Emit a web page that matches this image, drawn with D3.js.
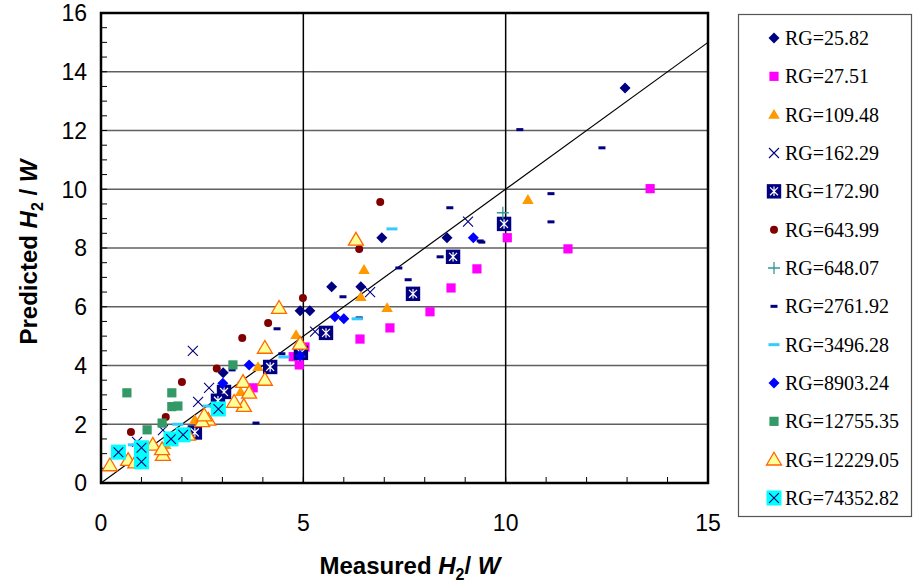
<!DOCTYPE html>
<html>
<head>
<meta charset="utf-8">
<script src="https://cdn.jsdelivr.net/npm/d3@7"></script>
<style>
body { margin: 0; background: #fff; }
svg { display: block; }
</style>
</head>
<body>
<svg id="chart" width="915" height="588"></svg>
<script>
// values, [measured, predicted]
const rg2582 = [[12.95, 13.45], [6.94, 8.35], [8.55, 8.35], [5.7, 6.68], [6.42, 6.68], [4.92, 5.86], [5.16, 5.86], [3.02, 3.75]]
const rg2751 = [[13.57, 10.02], [10.04, 8.35], [11.54, 7.97], [9.29, 7.29], [8.65, 6.64], [8.13, 5.83], [7.14, 5.28], [6.4, 4.9], [4.9, 4.02], [4.75, 4.3], [5.04, 4.63], [3.76, 3.24]]
const rg10948 = [[10.55, 9.64], [6.5, 7.26], [6.42, 6.34], [7.07, 5.96], [4.82, 5.04], [3.88, 3.95], [3.45, 3.1], [2.32, 2.15], [1.6, 1.3], [2.9, 2.6]]
const rg16229 = [[9.07, 8.9], [6.65, 6.5], [5.29, 5.15], [2.67, 3.24], [2.4, 2.76], [2.27, 4.5], [1.53, 1.8], [0.89, 1.4]]
const rg17290 = [[9.96, 8.82], [8.7, 7.7], [7.71, 6.44], [5.56, 5.11], [4.94, 4.43], [4.18, 3.95], [3.04, 3.1], [2.89, 2.8], [2.32, 1.72]]
const rg64399 = [[6.9, 9.57], [6.38, 7.97], [4.99, 6.3], [4.13, 5.45], [3.49, 4.94], [2.86, 3.9], [2.0, 3.44], [1.6, 2.25], [0.74, 1.74]]
const rg64807 = [[9.93, 9.2]]
const rg276192 = [[10.35, 12.03], [12.38, 11.41], [11.12, 9.85], [11.12, 8.89], [9.41, 8.2], [8.62, 9.37], [9.37, 8.24], [8.38, 7.7], [7.36, 7.32], [7.59, 6.92], [5.98, 6.34], [6.38, 5.62], [4.35, 5.25], [4.47, 4.4], [3.83, 2.04], [3.24, 3.85]]
const rg349628 = [[7.19, 8.65], [6.33, 5.59], [4.52, 4.29], [3.5, 3.4], [2.65, 2.62], [1.9, 2.0], [0.8, 1.3]]
const rg890324 = [[9.2, 8.35], [5.78, 5.66], [6.0, 5.59], [4.92, 4.33], [3.66, 4.02], [3.01, 3.4]]
const rg1275535 = [[0.64, 3.07], [1.75, 3.07], [1.75, 2.6], [1.9, 2.62], [1.51, 2.04], [1.14, 1.81], [3.26, 4.02]]
const rg1222905 = [[6.3, 8.28], [4.4, 5.96], [4.05, 4.6], [4.92, 4.74], [4.05, 3.51], [3.51, 3.44], [3.66, 3.07], [3.53, 2.62], [3.29, 2.76], [2.65, 2.15], [2.5, 2.1], [0.22, 0.6], [0.67, 0.78], [0.85, 0.7], [1.28, 1.3], [1.53, 0.95], [1.51, 1.15], [2.15, 1.64], [2.55, 2.3]]
const rg7435282 = [[0.43, 1.05], [1.0, 1.2], [1.0, 0.72], [1.73, 1.5], [2.03, 1.64], [2.9, 2.52]]

const seriesNames = ['RG=25.82', 'RG=27.51', 'RG=109.48', 'RG=162.29', 'RG=172.90', 'RG=643.99', 'RG=648.07',
	'RG=2761.92', 'RG=3496.28', 'RG=8903.24', 'RG=12755.35', 'RG=12229.05', 'RG=74352.82']
const seriesData = [rg2582, rg2751, rg10948, rg16229, rg17290, rg64399, rg64807,
	rg276192, rg349628, rg890324, rg1275535, rg1222905, rg7435282]
const xTicks = [0, 5, 10, 15]
const yTicks = [0, 2, 4, 6, 8, 10, 12, 14, 16]

// marker look per series
const markers = [
	{ type: 'diamond', r: 5.5, fill: '#000080' },
	{ type: 'square', r: 4.6, fill: '#ff00ff' },
	{ type: 'triangle', r: 5.8, fill: '#ff9900' },
	{ type: 'x', r: 5, stroke: '#000080' },
	{ type: 'boxstar', r: 7.2, fill: '#000080', stroke: '#ffffff' },
	{ type: 'circle', r: 4, fill: '#800000' },
	{ type: 'plus', r: 6, stroke: '#339999' },
	{ type: 'dash', w: 7, h: 3, fill: '#000080' },
	{ type: 'dash', w: 11, h: 3, fill: '#33ccff' },
	{ type: 'diamond', r: 5.5, fill: '#0000ff' },
	{ type: 'square', r: 4.6, fill: '#339966' },
	{ type: 'triangle', r: 7.5, fill: '#ffff99', stroke: '#ff6600' },
	{ type: 'boxx', r: 7.5, fill: '#00ffff', stroke: '#000080' }
]

const svg = d3.select('#chart')
const margin = { left: 101, top: 13, right: 708, bottom: 483 }
const x = d3.scaleLinear().domain([0, 15]).range([margin.left, margin.right])
const y = d3.scaleLinear().domain([0, 16]).range([margin.bottom, margin.top])

const drawMarker = (g, m) => {
	if (m.type === 'diamond') {
		g.append('path').attr('d', `M0,${-m.r}L${m.r},0L0,${m.r}L${-m.r},0Z`).attr('fill', m.fill)
	} else if (m.type === 'square') {
		g.append('rect').attr('x', -m.r).attr('y', -m.r).attr('width', 2 * m.r).attr('height', 2 * m.r).attr('fill', m.fill)
	} else if (m.type === 'triangle') {
		const h = m.r * 1.7
		g.append('path').attr('d', `M0,${-h * 0.58}L${m.r},${h * 0.42}L${-m.r},${h * 0.42}Z`)
			.attr('fill', m.fill).attr('stroke', m.stroke || 'none').attr('stroke-width', 1.3)
	} else if (m.type === 'x') {
		g.append('path').attr('d', `M${-m.r},${-m.r}L${m.r},${m.r}M${-m.r},${m.r}L${m.r},${-m.r}`)
			.attr('stroke', m.stroke).attr('stroke-width', 1.1).attr('fill', 'none')
	} else if (m.type === 'plus') {
		g.append('path').attr('d', `M${-m.r},0L${m.r},0M0,${-m.r}L0,${m.r}`)
			.attr('stroke', m.stroke).attr('stroke-width', 1.3).attr('fill', 'none')
	} else if (m.type === 'circle') {
		g.append('circle').attr('r', m.r).attr('fill', m.fill)
	} else if (m.type === 'dash') {
		g.append('rect').attr('x', -m.w / 2).attr('y', -m.h / 2).attr('width', m.w).attr('height', m.h).attr('fill', m.fill)
	} else if (m.type === 'boxstar') {
		const a = m.r * 0.55
		g.append('rect').attr('x', -m.r).attr('y', -m.r).attr('width', 2 * m.r).attr('height', 2 * m.r).attr('fill', m.fill)
		g.append('path').attr('d', `M${-a},${-a}L${a},${a}M${-a},${a}L${a},${-a}M0,${-a * 1.2}L0,${a * 1.2}`)
			.attr('stroke', m.stroke).attr('stroke-width', 1.2).attr('fill', 'none')
	} else if (m.type === 'boxx') {
		const a = m.r * 0.65
		g.append('rect').attr('x', -m.r).attr('y', -m.r).attr('width', 2 * m.r).attr('height', 2 * m.r).attr('fill', m.fill)
		g.append('path').attr('d', `M${-a},${-a}L${a},${a}M${-a},${a}L${a},${-a}`)
			.attr('stroke', m.stroke).attr('stroke-width', 1.1).attr('fill', 'none')
	}
}

// grid
const gGrid = svg.append('g')
gGrid.selectAll('line.h').data(yTicks.slice(1, -1)).enter().append('line')
	.attr('x1', margin.left).attr('x2', margin.right)
	.attr('y1', y).attr('y2', y)
	.attr('stroke', '#606060').attr('stroke-width', 1.6)
gGrid.selectAll('line.v').data(xTicks.slice(1, -1)).enter().append('line')
	.attr('y1', margin.top).attr('y2', margin.bottom)
	.attr('x1', x).attr('x2', x)
	.attr('stroke', '#000').attr('stroke-width', 1.5)

// minor ticks, inside the frame
gGrid.selectAll('line.ty').data(d3.range(0.5, 16, 0.5)).enter().append('line')
	.attr('x1', margin.left).attr('x2', margin.left + 6)
	.attr('y1', y).attr('y2', y)
	.attr('stroke', '#000').attr('stroke-width', 1)
gGrid.selectAll('line.tx').data(d3.range(1, 15, 1)).enter().append('line')
	.attr('y1', margin.bottom).attr('y2', margin.bottom - 6)
	.attr('x1', x).attr('x2', x)
	.attr('stroke', '#000').attr('stroke-width', 1)

// 1:1 line
svg.append('line')
	.attr('x1', x(0)).attr('y1', y(0)).attr('x2', x(15)).attr('y2', y(15))
	.attr('stroke', '#000').attr('stroke-width', 1.2)

// points
const gPoints = svg.append('g')
seriesData.forEach((data, i) => {
	data.forEach((d) => {
		const g = gPoints.append('g').attr('transform', `translate(${x(d[0])},${y(d[1])})`)
		drawMarker(g, markers[i])
	})
})

// frame
svg.append('rect')
	.attr('x', margin.left).attr('y', margin.top)
	.attr('width', margin.right - margin.left).attr('height', margin.bottom - margin.top)
	.attr('fill', 'none').attr('stroke', '#000').attr('stroke-width', 2.5)

// tick labels
svg.append('g').selectAll('text').data(xTicks).enter().append('text')
	.attr('x', x).attr('y', 531)
	.attr('text-anchor', 'middle')
	.style('font-family', 'Liberation Sans, Arial, sans-serif').style('font-size', '23px')
	.text((d) => d)
svg.append('g').selectAll('text').data(yTicks).enter().append('text')
	.attr('x', 87).attr('y', y).attr('dy', '0.36em')
	.attr('text-anchor', 'end')
	.style('font-family', 'Liberation Sans, Arial, sans-serif').style('font-size', '23px')
	.text((d) => d)

// axis titles
const title = (sel, word, sep) => {
	sel.style('font-family', 'Liberation Sans, Arial, sans-serif').style('font-size', '24px').style('font-weight', 'bold')
	sel.append('tspan').text(word + ' ')
	sel.append('tspan').style('font-style', 'italic').text('H')
	sel.append('tspan').attr('dy', 6).style('font-size', '16px').text('2')
	sel.append('tspan').attr('dy', -6).text(sep)
	sel.append('tspan').style('font-style', 'italic').text('W')
}
svg.append('text').attr('x', 410).attr('y', 574).attr('text-anchor', 'middle').call(title, 'Measured', '/ ')
svg.append('text').attr('transform', 'translate(37,252) rotate(-90)').attr('text-anchor', 'middle').call(title, 'Predicted', ' / ')

// legend
const gLegend = svg.append('g')
gLegend.append('rect')
	.attr('x', 738.5).attr('y', 14.5).attr('width', 173).attr('height', 502)
	.attr('fill', '#fff').attr('stroke', '#555').attr('stroke-width', 1.2)
const legendY = d3.scaleLinear().domain([0, 12]).range([38, 498])
seriesNames.forEach((name, i) => {
	const g = gLegend.append('g').attr('transform', `translate(774,${legendY(i)})`)
	drawMarker(g, markers[i])
	gLegend.append('text')
		.attr('x', 785).attr('y', legendY(i)).attr('dy', '0.35em')
		.style('font-family', 'Liberation Serif, Times New Roman, serif').style('font-size', '20px')
		.text(name)
})
</script>
</body>
</html>
